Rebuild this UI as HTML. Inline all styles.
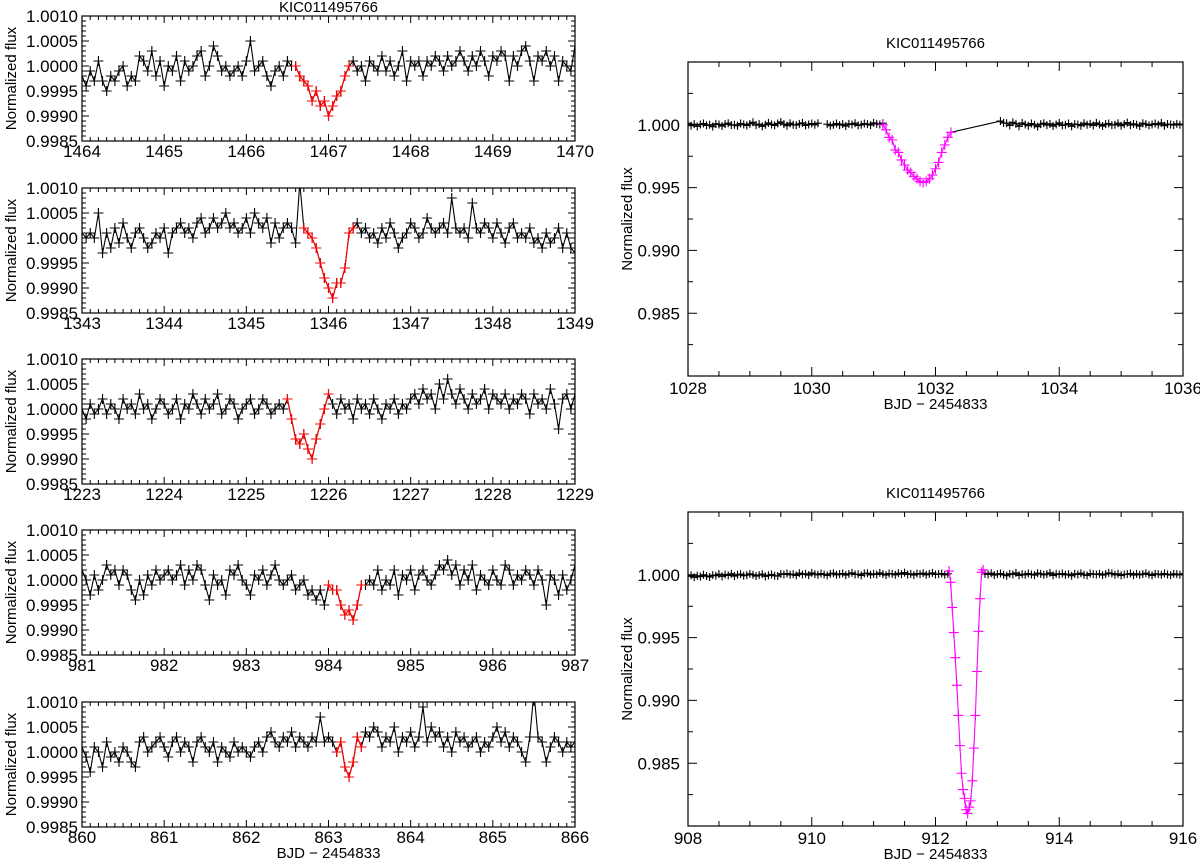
<!DOCTYPE html>
<html><head><meta charset="utf-8"><style>
body{margin:0;background:#fff;}
svg text{font-family:"Liberation Sans",Arial,sans-serif;fill:#000;}
</style></head><body>
<svg id="chart" width="1200" height="860" viewBox="0 0 1200 860" xmlns="http://www.w3.org/2000/svg"></svg>
<script>
// ---- left panels data: flux deviation in units of 1e-3, cadence 0.05 d ----
const leftUnit = 1e-3;
const p1Start = 1464, p1Red = [52, 65];
const p1Flux = [-0.2,-0.4,-0.1,-0.3,0.1,-0.3,-0.5,-0.2,-0.3,-0.1,0.0,-0.4,-0.2,-0.3,0.2,0.1,-0.1,0.3,-0.2,0.1,-0.4,0.0,-0.1,0.2,-0.3,0.1,-0.1,0.0,0.2,0.3,-0.2,0.0,0.4,0.2,-0.1,0.0,-0.2,-0.1,0.0,-0.2,0.1,0.5,-0.1,0.0,0.1,-0.2,-0.4,-0.1,0.0,-0.2,0.1,0.0,
0.0,-0.2,-0.3,-0.4,-0.7,-0.5,-0.8,-0.7,-1.0,-0.8,-0.6,-0.5,-0.2,0.0,
0.1,-0.1,0.0,-0.3,0.1,0.0,-0.1,0.2,-0.1,0.1,-0.2,0.0,0.3,-0.3,0.1,0.0,0.1,-0.2,0.1,0.0,0.2,0.1,-0.1,0.2,0.0,0.1,0.3,0.1,-0.1,0.2,0.0,0.3,0.1,-0.2,0.2,0.1,0.3,0.2,-0.3,0.2,0.0,0.3,0.4,0.1,-0.3,0.2,0.1,0.3,0.0,0.2,-0.3,0.1,0.0,-0.1,0.4];
const p2Start = 1343, p2Red = [54, 66];
const p2Flux = [0.1,0.0,0.1,0.0,0.5,-0.3,0.1,-0.2,0.2,-0.1,0.3,0.0,-0.2,0.1,0.2,0.0,-0.2,-0.1,0.1,0.0,0.2,-0.3,0.1,0.2,0.3,0.1,0.2,0.0,0.3,0.4,0.1,0.2,0.4,0.2,0.3,0.5,0.2,0.3,0.1,0.2,0.4,0.1,0.5,0.3,0.2,0.4,-0.1,0.3,0.0,0.2,0.3,0.2,-0.1,1.1,
0.2,0.1,0.0,-0.2,-0.5,-0.8,-1.0,-1.2,-0.9,-0.9,-0.6,0.1,0.2,
0.3,0.1,0.2,0.0,0.1,-0.1,0.2,0.0,0.3,0.1,-0.2,0.0,0.1,0.3,0.2,0.0,0.1,0.4,0.2,0.1,0.2,0.3,0.1,0.8,0.2,0.1,0.2,0.0,0.7,0.2,0.1,0.3,0.2,0.0,0.3,0.1,-0.1,0.2,0.3,0.0,0.1,0.0,0.2,-0.1,0.0,-0.2,0.1,-0.1,0.0,0.2,-0.2,0.1,-0.2,-0.3];
const p3Start = 1223, p3Red = [50, 60];
const p3Flux = [0.0,-0.2,0.1,-0.1,0.0,0.2,-0.1,0.1,0.0,-0.2,0.2,0.0,0.1,-0.1,0.3,0.0,0.1,-0.2,0.0,0.2,0.1,-0.1,0.0,0.2,-0.2,0.1,0.0,0.3,0.1,-0.1,0.2,0.0,0.1,0.3,-0.1,0.0,0.2,0.1,-0.2,0.0,0.1,0.2,-0.1,0.0,0.2,0.1,-0.1,0.0,0.1,0.0,
0.2,-0.2,-0.6,-0.7,-0.5,-0.8,-1.0,-0.6,-0.3,0.0,0.3,
0.1,-0.1,0.2,0.0,0.1,-0.2,0.2,0.0,0.1,-0.1,0.2,0.0,-0.2,0.1,0.0,0.2,-0.1,0.1,0.0,0.2,0.3,0.1,0.4,0.2,0.3,0.0,0.5,0.2,0.6,0.3,0.1,0.4,0.2,0.0,0.3,0.1,0.2,0.4,0.0,0.3,0.2,0.1,0.3,0.0,0.2,0.1,0.3,0.2,-0.1,0.3,0.1,0.2,0.0,0.4,0.1,-0.4,0.2,0.3,0.0,0.3];
const p4Start = 981, p4Red = [60, 68];
const p4Flux = [0.2,0.0,-0.3,0.1,-0.2,0.0,0.3,0.1,0.2,-0.1,0.2,0.1,-0.2,-0.4,0.0,-0.3,0.1,-0.1,0.2,0.0,0.1,0.2,0.0,0.1,0.3,-0.1,0.2,0.0,0.3,0.2,-0.1,-0.4,0.1,-0.1,0.0,-0.3,0.2,0.1,0.3,0.0,-0.1,-0.3,0.1,0.0,0.2,-0.1,0.1,0.3,0.0,-0.1,0.0,0.1,-0.2,-0.1,0.0,-0.3,-0.2,-0.4,-0.2,-0.5,
-0.1,-0.2,-0.2,-0.5,-0.7,-0.6,-0.8,-0.5,-0.1,
-0.1,0.0,-0.1,0.2,-0.2,0.0,-0.1,0.2,-0.3,0.1,0.0,0.2,-0.2,0.1,0.2,0.0,-0.1,0.1,0.3,0.2,0.4,0.1,0.3,-0.1,0.2,0.0,0.3,-0.2,0.1,0.0,-0.1,0.2,0.0,-0.1,0.3,0.2,-0.1,0.1,0.0,0.2,0.1,-0.1,0.2,0.0,-0.5,0.1,0.0,-0.3,0.1,-0.2,0.0,0.3];
const p5Start = 860, p5Red = [62, 68];
const p5Flux = [0.1,-0.1,-0.4,0.1,0.0,-0.3,0.2,-0.1,0.0,-0.2,0.1,0.0,-0.2,-0.3,0.2,0.3,0.0,0.1,0.2,0.3,0.1,-0.1,0.2,0.3,0.0,0.2,0.1,-0.2,0.2,0.3,0.1,0.0,0.2,-0.2,0.1,0.0,-0.1,0.2,0.0,0.1,0.0,-0.1,0.1,0.2,0.0,0.3,0.4,0.2,0.1,0.3,0.2,0.4,0.1,0.3,0.2,0.1,0.3,0.2,0.7,0.2,0.3,0.2,
0.0,0.2,-0.3,-0.5,-0.2,0.3,0.1,
0.4,0.3,0.5,0.4,0.1,0.3,0.2,0.5,0.0,0.3,0.2,0.4,0.1,0.3,0.9,0.2,0.5,0.3,0.4,0.1,0.3,0.0,0.4,0.2,0.3,0.1,0.2,0.3,0.0,0.2,0.1,0.3,0.5,0.2,0.4,0.1,0.3,0.2,0.0,-0.2,0.3,1.2,0.3,0.2,-0.2,0.1,0.3,0.2,0.0,0.2,0.1,0.2];
const leftCadence = 0.05;
const leftYTicks = ["0.9985","1.0000","1.0005","1.0010","0.9990","0.9995"];

// ---- right panels: baseline arrays in units of 2.5e-4, transit arrays in units of 1e-4 ----
const rightNoiseUnit = 2.5e-4, rightTransitUnit = 1e-4;
const rtAStart = 1028, rtBStart = 1030.25, rtTStart = 1031.15, rtCStart = 1033.05, rtStep = 0.05;
const rtA = [0.5,-0.3,0.2,-0.5,0.1,0.4,-0.2,0.0,-0.6,0.3,0.1,-0.4,0.2,0.5,-0.1,0.0,-0.3,0.4,0.1,-0.2,0.3,0.8,-0.1,0.2,-0.5,0.0,0.6,0.1,-0.2,0.4,0.9,0.2,-0.3,0.5,0.0,-0.1,0.3,0.6,-0.2,0.1,0.4,0.0,0.5];
const rtB = [0.2,-0.3,0.0,0.4,-0.1,0.2,-0.4,0.3,0.1,0.5,-0.2,0.0,0.4,0.2,-0.1,0.6,0.3,0.1,0.5];
const rtT = [0.0,-4,-10,-12,-20,-22,-28,-32,-36,-38,-41,-43,-45,-46,-45,-43,-40,-35,-30,-22,-16,-10,-6];
const rtC = [1.2,0.6,0.5,-0.2,0.8,0.3,-0.5,0.6,0.1,-0.3,0.4,0.0,-0.6,0.2,0.5,-0.1,0.3,-0.4,0.1,0.6,-0.2,0.0,0.4,-0.5,0.2,0.1,-0.3,0.5,0.0,0.3,-0.2,0.6,0.1,-0.4,0.2,0.4,-0.1,0.0,0.5,-0.3,0.2,0.7,-0.1,0.3,0.0,-0.4,0.5,0.2,-0.2,0.1,0.4,0.0,0.6,-0.3,0.2,0.1,-0.1,0.3,0.0,0.2];

const rbAStart = 908, rbTStart = 912.22, rbCStart = 912.8, rbStep = 0.05, rbTStep = 0.025;
const rbA = [-0.5,-0.2,-0.8,-0.3,-0.6,0.0,-0.4,-0.7,-0.1,-0.3,0.2,-0.5,0.1,-0.2,0.3,-0.4,0.0,0.2,-0.3,-0.1,0.3,0.0,-0.4,-0.1,0.2,-0.5,-0.2,0.1,-0.3,-0.4,0.3,0.1,0.4,0.0,0.2,-0.2,0.5,0.1,0.3,-0.1,0.6,0.2,0.0,0.4,0.1,-0.2,0.3,0.5,0.0,0.2,0.4,-0.1,0.3,0.6,0.1,0.2,-0.2,0.4,0.5,0.0,0.3,0.1,0.6,0.2,-0.1,0.4,0.3,0.0,0.5,0.2,0.7,0.1,0.3,-0.1,0.4,0.2,0.5,0.0,0.3,0.6,0.1,0.2,0.4,0.0,0.3];
const rbT = [3,-6,-26,-46,-66,-88,-112,-136,-158,-171,-178,-187,-190,-185,-180,-164,-138,-112,-77,-45,-19,2,4];
const rbC = [0.3,0.1,0.5,-0.1,0.2,0.4,0.0,-0.3,0.3,0.1,0.6,-0.2,0.2,0.0,0.4,0.1,-0.1,0.5,0.3,0.0,0.2,0.6,-0.2,0.3,0.1,0.4,0.0,0.2,-0.3,0.3,0.1,0.5,0.0,-0.2,0.4,0.2,0.1,0.3,-0.1,0.2,0.6,0.4,0.0,0.3,-0.2,0.1,0.2,0.4,-0.1,0.3,0.0,0.2,0.5,0.1,-0.2,0.3,0.2,0.0,0.4,0.1,-0.1,0.3,0.2,0.0,0.3];
const rightYTicks = ["0.985","0.990","0.995","1.000"];

const NS = "http://www.w3.org/2000/svg";
const svg = document.getElementById('chart');
function mk(tag, attrs, parent){ const e=document.createElementNS(NS,tag); for(const k in attrs) e.setAttribute(k,attrs[k]); (parent||svg).appendChild(e); return e; }
let clipId=0;

function makePanel(cfg){
  const g = mk('g',{});
  
  
  const sx = v => cfg.L + (v-cfg.x0)/(cfg.x1-cfg.x0)*(cfg.R-cfg.L);
  const sy = v => cfg.B - (v-cfg.y0)/(cfg.y1-cfg.y0)*(cfg.B-cfg.T);
  const id='c'+(clipId++);
  const cp = mk('clipPath',{id:id},g); mk('rect',{x:cfg.L,y:cfg.T,width:cfg.R-cfg.L,height:cfg.B-cfg.T},cp);
  const frame = mk('rect',{x:cfg.L,y:cfg.T,width:cfg.R-cfg.L,height:cfg.B-cfg.T,fill:'none',stroke:'#000','stroke-width':1.2},g);
  
  
  let tk='';
  const nxm = Math.round((cfg.x1-cfg.x0)/cfg.xMinor);
  for(let i=0;i<=nxm;i++){ const v=cfg.x0+i*cfg.xMinor; const x=sx(v);
    const major = Math.abs((v-cfg.x0)/cfg.xMajor - Math.round((v-cfg.x0)/cfg.xMajor))<1e-6;
    const len = major?cfg.majLen:cfg.minLen;
    tk+=`M${x},${cfg.B}v${-len}M${x},${cfg.T}v${len}`;
    if(major){ const t=mk('text',{x:x,y:cfg.B+cfg.xLabDy,'text-anchor':'middle','font-size':cfg.fs},g); t.textContent=String(Math.round(v));
        }
  }
  const nym = Math.round((cfg.y1-cfg.y0)/cfg.yMinor);
  for(let i=0;i<=nym;i++){ const v=cfg.y0+i*cfg.yMinor; const y=sy(v);
    const major = cfg.yLabels.some(s=>Math.abs(parseFloat(s)-v)<1e-9);
    const len = major?cfg.majLen:cfg.minLen;
    tk+=`M${cfg.L},${y}h${len}M${cfg.R},${y}h${-len}`;
  }
  mk('path',{d:tk,stroke:'#000','stroke-width':1,fill:'none'},g);
  cfg.yLabels.forEach(s=>{ const t=mk('text',{x:cfg.L-cfg.yLabDx,y:sy(parseFloat(s))+cfg.fs*0.36,'text-anchor':'end','font-size':cfg.fs},g); t.textContent=s;
      });
  const yt=mk('text',{x:0,y:0,'text-anchor':'middle','font-size':cfg.tfs,transform:`translate(${cfg.yTitleX},${(cfg.T+cfg.B)/2}) rotate(-90)`},g);
  yt.textContent='Normalized flux';
   
  if(cfg.title){ const t=mk('text',{x:(cfg.L+cfg.R)/2,y:cfg.T-cfg.titleDy,'text-anchor':'middle','font-size':cfg.tfs},g); t.textContent=cfg.title;
      }
  if(cfg.xTitle){ const t=mk('text',{x:(cfg.L+cfg.R)/2,y:cfg.B+cfg.xTitleDy,'text-anchor':'middle','font-size':cfg.tfs},g); t.textContent='BJD \u2212 2454833';
      }
  const data = mk('g',{'clip-path':`url(#${id})`},g);
  return {g, data, sx, sy};
}
function drawSeries(P, pts, color, ms, name){
  const line = mk('polyline',{points:pts.map(p=>P.sx(p[0])+','+P.sy(p[1])).join(' '),fill:'none',stroke:color,'stroke-width':1.1},P.data);
  
  
  let d='';
  pts.forEach(p=>{ const x=P.sx(p[0]), y=P.sy(p[1]); d+=`M${x-ms},${y}h${2*ms}M${x},${y-ms}v${2*ms}`; });
  const m = mk('path',{d:d,stroke:color,'stroke-width':1.1,fill:'none'},P.data);
  
  
}

const leftPanels = [
  {start:p1Start, flux:p1Flux, red:p1Red, T:16},
  {start:p2Start, flux:p2Flux, red:p2Red, T:188},
  {start:p3Start, flux:p3Flux, red:p3Red, T:359},
  {start:p4Start, flux:p4Flux, red:p4Red, T:530},
  {start:p5Start, flux:p5Flux, red:p5Red, T:702}
];
leftPanels.forEach((lp,k)=>{
  const P = makePanel({name:'light-curve-panel-'+(k+1), L:82, R:575, T:lp.T, B:lp.T+125,
    x0:lp.start, x1:lp.start+6, y0:0.9985, y1:1.0010, xMajor:1, xMinor:0.1, yMinor:0.0001,
    yLabels:leftYTicks, majLen:7, minLen:4, fs:17, tfs:15, xLabDy:16, yLabDx:4, yTitleX:16,
    title: k===0?'KIC011495766':null, titleDy:4, xTitle:k===4, xTitleDy:31});
  const pts = lp.flux.map((f,i)=>[lp.start+i*leftCadence, 1+f*leftUnit]);
  drawSeries(P, pts, '#000', 5, 'flux');
  drawSeries(P, pts.slice(lp.red[0], lp.red[1]+1), '#ff0000', 5, 'transit');
});

{
  const P = makePanel({name:'transit-panel-top', L:688, R:1183, T:62, B:376,
    x0:1028, x1:1036, y0:0.980, y1:1.005, xMajor:2, xMinor:0.5, yMinor:0.0025,
    yLabels:rightYTicks, majLen:9, minLen:5, fs:17, tfs:15, xLabDy:18, yLabDx:8, yTitleX:632,
    title:'KIC011495766', titleDy:14, xTitle:true, xTitleDy:33});
  const a = rtA.map((f,i)=>[rtAStart+i*rtStep,1+f*rightNoiseUnit]);
  const b = rtB.map((f,i)=>[rtBStart+i*rtStep,1+f*rightNoiseUnit]);
  const t = rtT.map((f,i)=>[rtTStart+i*rtStep,1+f*rightTransitUnit]);
  const c = rtC.map((f,i)=>[rtCStart+i*rtStep,1+f*rightNoiseUnit]);
  drawSeries(P, a, '#000', 4, 'flux-a');
  drawSeries(P, b, '#000', 4, 'flux-b');
  drawSeries(P, [t[t.length-1], c[0]], '#000', 0, 'gap');
  drawSeries(P, c, '#000', 4, 'flux-c');
  drawSeries(P, t, '#ff00ff', 5, 'transit');
}
{
  const P = makePanel({name:'transit-panel-bottom', L:688, R:1183, T:512, B:826,
    x0:908, x1:916, y0:0.980, y1:1.005, xMajor:2, xMinor:0.5, yMinor:0.0025,
    yLabels:rightYTicks, majLen:9, minLen:5, fs:17, tfs:15, xLabDy:18, yLabDx:8, yTitleX:632,
    title:'KIC011495766', titleDy:14, xTitle:true, xTitleDy:33});
  const a = rbA.map((f,i)=>[rbAStart+i*rbStep,1+f*rightNoiseUnit]);
  const t = rbT.map((f,i)=>[rbTStart+i*rbTStep,1+f*rightTransitUnit]);
  const c = rbC.map((f,i)=>[rbCStart+i*rbStep,1+f*rightNoiseUnit]);
  drawSeries(P, a, '#000', 4, 'flux-a');
  drawSeries(P, c, '#000', 4, 'flux-c');
  drawSeries(P, t, '#ff00ff', 5, 'transit');
}
</script>
</body></html>
